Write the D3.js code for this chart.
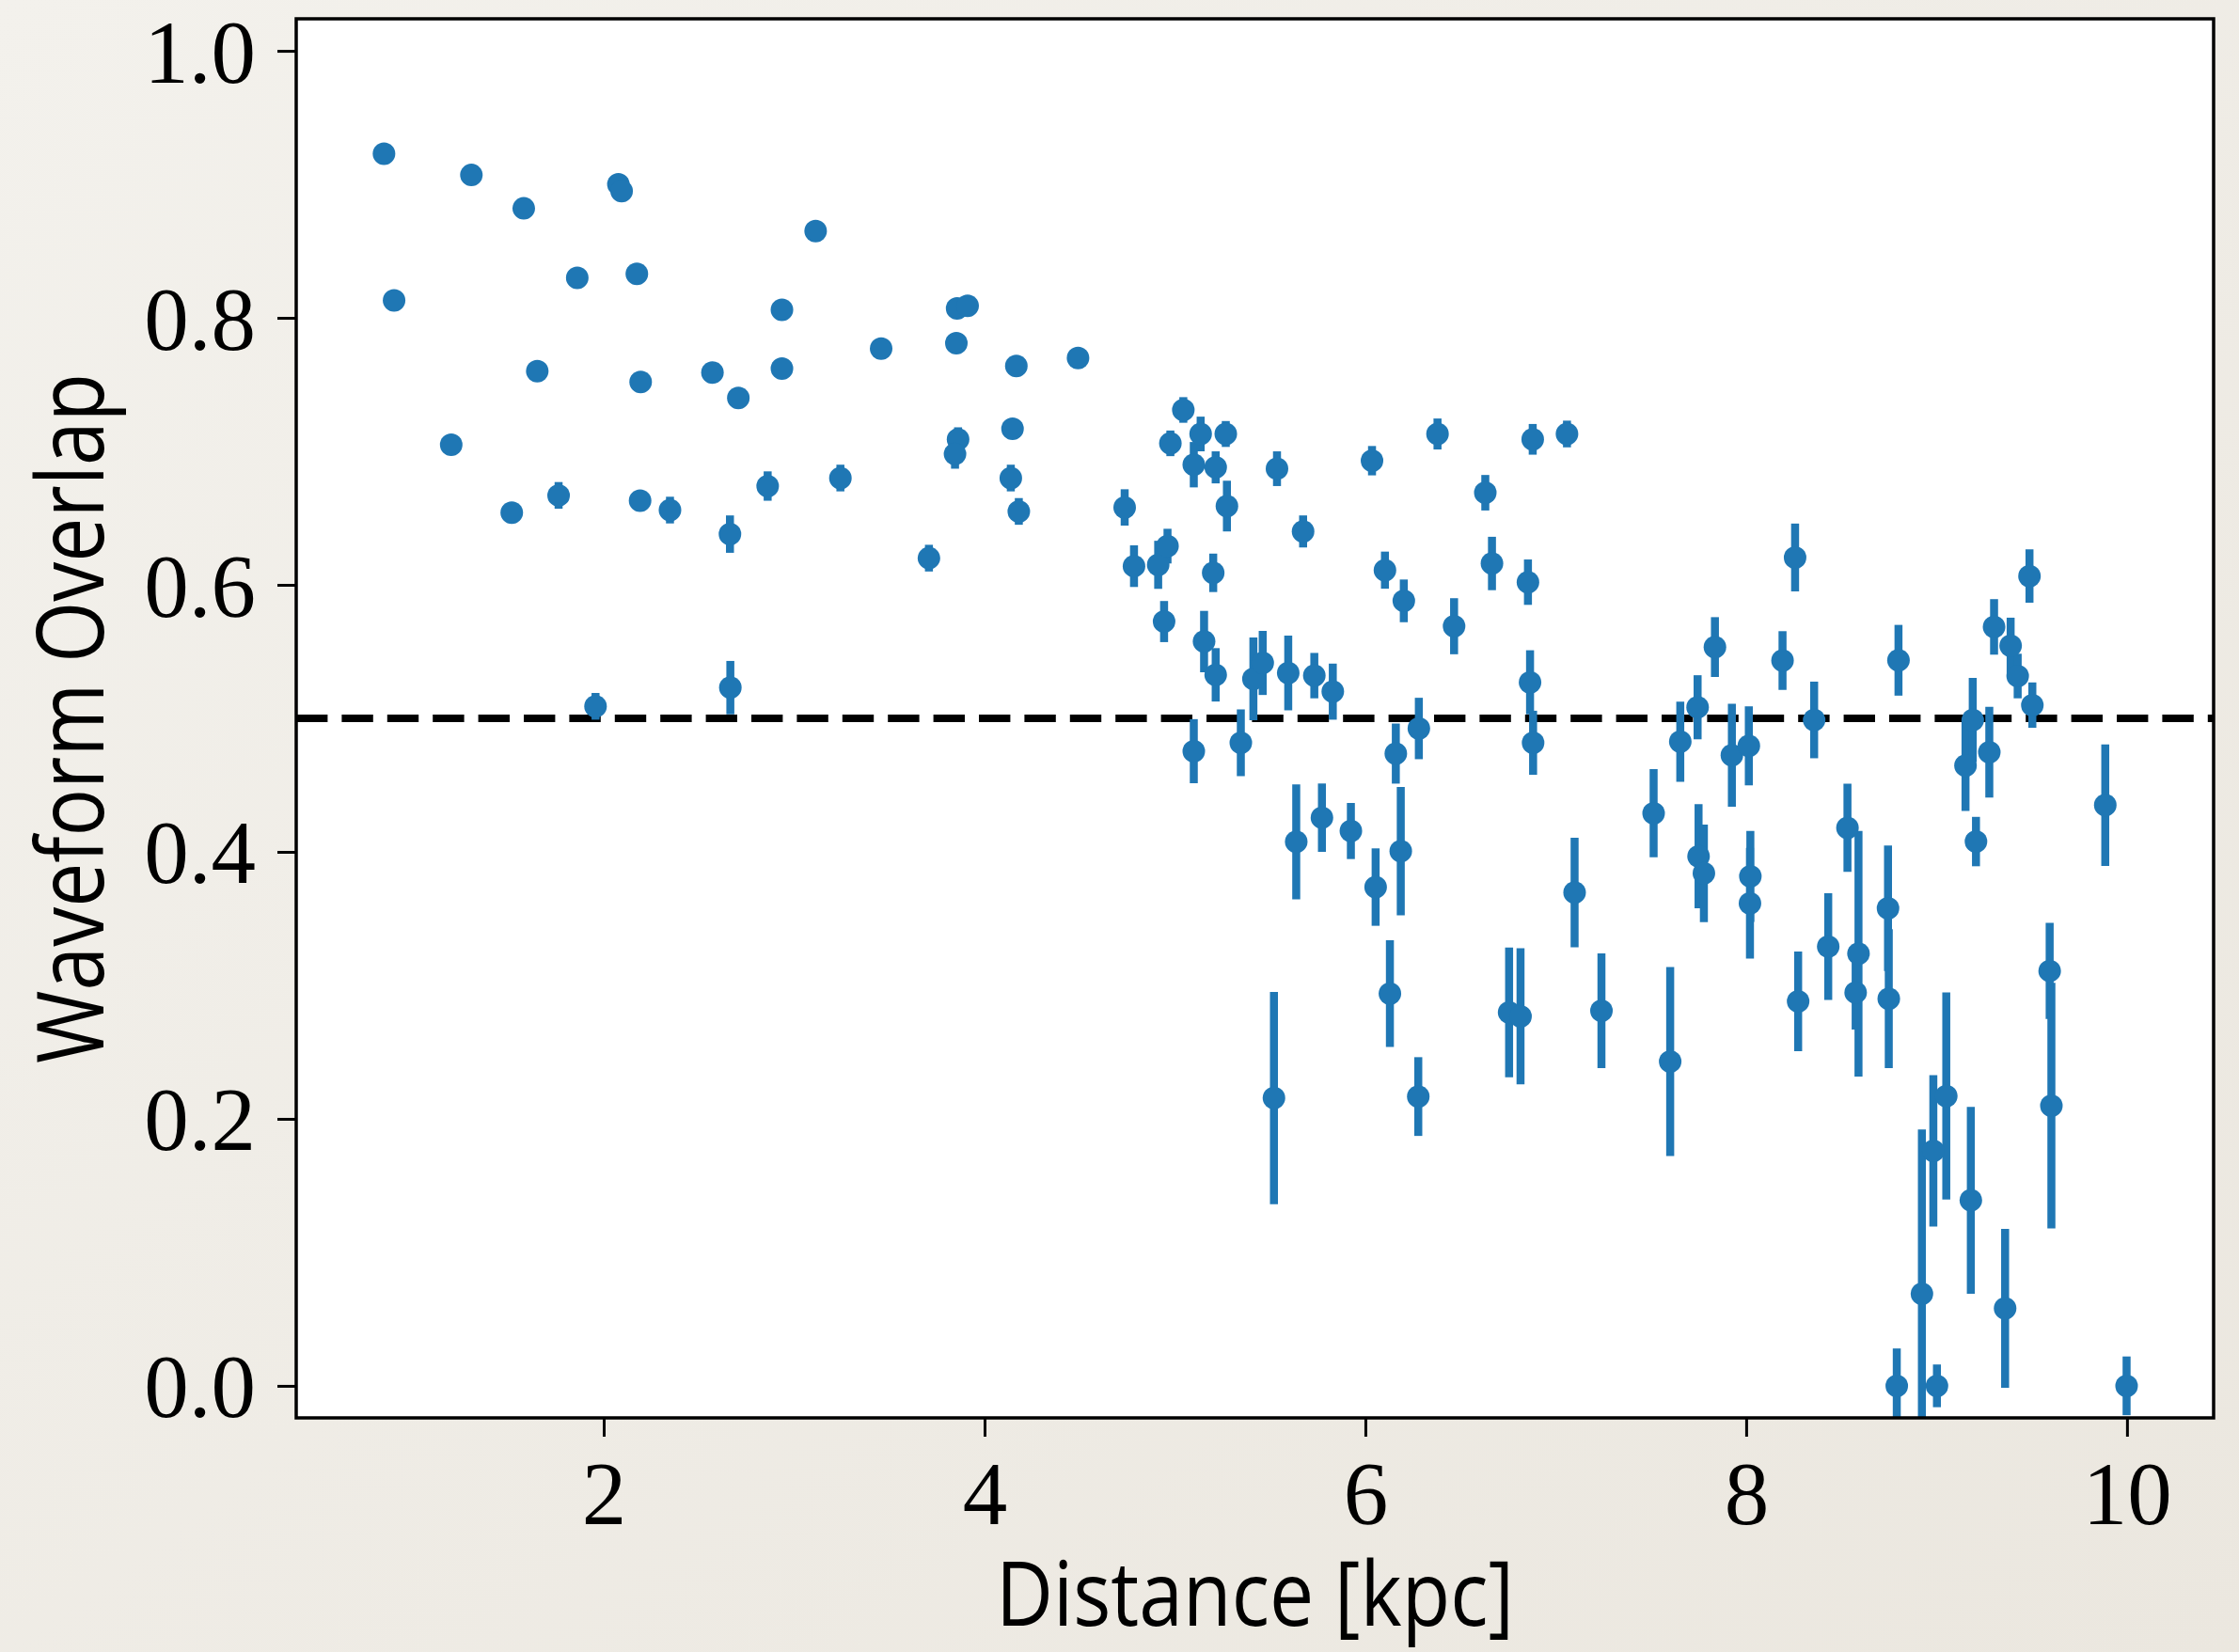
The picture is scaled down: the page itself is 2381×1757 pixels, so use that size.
<!DOCTYPE html>
<meta charset="utf-8">
<script src="https://d3js.org/d3.v7.min.js"></script>
<style>
  body { margin: 0; background: #efece6; }
</style>
<div id="chart"></div>
<script>
  // distance [kpc], waveform overlap and its error
  var distance = [
    0.846, 0.899, 1.199, 1.305, 1.517, 1.580, 1.651, 1.763, 1.861, 1.957,
    2.077, 2.094, 2.174, 2.194, 2.191, 2.348, 2.571, 2.663, 2.665, 2.707,
    2.861, 2.936, 2.936, 3.113, 3.243, 3.457, 3.708, 3.852, 3.856, 3.911,
    3.861, 3.845, 4.147, 4.138, 4.167, 4.180, 4.491, 4.736, 4.785, 4.912,
    4.961, 4.943, 4.976, 5.044, 5.099, 5.099, 5.135, 5.153, 5.201, 5.214,
    5.214, 5.267, 5.273, 5.346, 5.412, 5.461, 5.520, 5.536, 5.595, 5.637,
    5.673, 5.732, 5.772, 5.829, 5.924, 6.035, 6.054, 6.103, 6.129, 6.160,
    6.186, 6.202, 6.278, 6.281, 6.379, 6.466, 6.630, 6.665, 6.755, 6.815,
    6.854, 6.865, 6.879, 6.881, 7.059, 7.099, 7.240, 7.514, 7.601, 7.654,
    7.745, 7.750, 7.778, 7.836, 7.925, 8.014, 8.022, 8.020, 8.191, 8.257,
    8.273, 8.357, 8.431, 8.532, 8.575, 8.590, 8.745, 8.749, 8.791, 8.800,
    8.923, 8.983, 9.002, 9.051, 9.152, 9.180, 9.190, 9.207, 9.277, 9.302,
    9.360, 9.389, 9.426, 9.488, 9.503, 9.594, 9.603, 9.886, 9.998
  ];
  var overlap = [
    0.923, 0.813, 0.705, 0.907, 0.654, 0.882, 0.760, 0.667, 0.830, 0.509,
    0.900, 0.895, 0.833, 0.752, 0.663, 0.656, 0.759, 0.638, 0.523, 0.740,
    0.674, 0.806, 0.762, 0.865, 0.680, 0.777, 0.620, 0.781, 0.807, 0.809,
    0.709, 0.698, 0.717, 0.680, 0.764, 0.655, 0.770, 0.658, 0.614, 0.615,
    0.629, 0.5725, 0.706, 0.731, 0.690, 0.4754, 0.713, 0.5575, 0.609, 0.688,
    0.5326, 0.713, 0.659, 0.4817, 0.5296, 0.5415, 0.2156, 0.687, 0.534, 0.4075,
    0.640, 0.532, 0.4256, 0.520, 0.4156, 0.693, 0.3736, 0.611, 0.2938, 0.4736,
    0.4005, 0.588, 0.2167, 0.4924, 0.713, 0.569, 0.669, 0.616, 0.2798, 0.2768,
    0.602, 0.527, 0.709, 0.4817, 0.713, 0.3695, 0.281, 0.4289, 0.2429, 0.4825,
    0.5083, 0.3967, 0.3839, 0.5534, 0.4724, 0.4794, 0.3816, 0.3615, 0.5433, 0.6205,
    0.288, 0.4988, 0.329, 0.418, 0.2946, 0.3237, 0.3577, 0.290, 0.000, 0.5435,
    0.069, 0.176, 0.000, 0.2171, 0.4646, 0.139, 0.4988, 0.4077, 0.4746, 0.5685,
    0.058, 0.5544, 0.5317, 0.6066, 0.5099, 0.3108, 0.2099, 0.435, 0.000
  ];
  var overlapErr = [
    0.004, 0.004, 0.004, 0.004, 0.005, 0.004, 0.005, 0.010, 0.004, 0.010,
    0.004, 0.004, 0.004, 0.005, 0.006, 0.010, 0.005, 0.014, 0.020, 0.005,
    0.011, 0.005, 0.005, 0.004, 0.010, 0.005, 0.010, 0.005, 0.004, 0.004,
    0.009, 0.011, 0.006, 0.010, 0.005, 0.010, 0.005, 0.0136, 0.0156, 0.018,
    0.013, 0.0154, 0.0096, 0.0096, 0.017, 0.024, 0.013, 0.023, 0.0144, 0.012,
    0.020, 0.0097, 0.019, 0.025, 0.031, 0.024, 0.0795, 0.013, 0.028, 0.043,
    0.012, 0.017, 0.0256, 0.021, 0.021, 0.011, 0.029, 0.0139, 0.040, 0.0225,
    0.048, 0.016, 0.0295, 0.023, 0.0116, 0.021, 0.0133, 0.020, 0.0486, 0.051,
    0.017, 0.024, 0.0115, 0.024, 0.010, 0.041, 0.043, 0.033, 0.0708, 0.030,
    0.024, 0.039, 0.0366, 0.0224, 0.0386, 0.0296, 0.034, 0.0415, 0.022, 0.0254,
    0.0373, 0.0287, 0.040, 0.033, 0.0277, 0.092, 0.047, 0.052, 0.028, 0.0265,
    0.123, 0.0567, 0.016, 0.0776, 0.034, 0.070, 0.0315, 0.0185, 0.034, 0.0208,
    0.0595, 0.021, 0.0167, 0.020, 0.017, 0.036, 0.092, 0.0455, 0.022
  ];
  var xTicks = [2, 4, 6, 8, 10];
  var yTicks = [0.0, 0.2, 0.4, 0.6, 0.8, 1.0];
  var threshold = 0.5;

  var W = 2381, H = 1757;
  var margin = {top: 20, right: 27, bottom: 249, left: 315};
  var width = W - margin.left - margin.right,
      height = H - margin.top - margin.bottom;
  var blue = "#1f77b4";

  var svg = d3.select("#chart")
    .append("svg")
      .attr("width", W)
      .attr("height", H);

  // paper-ish background
  var defs = svg.append("defs");
  var grad = defs.append("linearGradient")
      .attr("id", "paper")
      .attr("x1", "0").attr("y1", "0").attr("x2", "1").attr("y2", "1");
  grad.append("stop").attr("offset", "0%").attr("stop-color", "#f3f1ec");
  grad.append("stop").attr("offset", "100%").attr("stop-color", "#ebe7df");
  svg.append("rect")
    .attr("width", W).attr("height", H)
    .attr("fill", "url(#paper)");

  defs.append("clipPath").attr("id", "plotclip")
    .append("rect").attr("width", width).attr("height", height);

  var g = svg.append("g")
      .attr("transform", "translate(" + margin.left + "," + margin.top + ")");

  var x = d3.scaleLinear().domain([0.385, 10.455]).range([0, width]);
  var y = d3.scaleLinear().domain([-0.024, 1.024]).range([height, 0]);

  g.append("rect")
    .attr("width", width).attr("height", height)
    .attr("fill", "white");

  var plot = g.append("g").attr("clip-path", "url(#plotclip)");

  // dashed threshold line
  plot.append("line")
    .attr("x1", 0).attr("x2", width)
    .attr("y1", y(threshold)).attr("y2", y(threshold))
    .attr("stroke", "black")
    .attr("stroke-width", 8)
    .attr("stroke-dasharray", "33.4,15");

  var pts = distance.map(function(d, i) {
    return {x: d, y: overlap[i], e: overlapErr[i]};
  });

  plot.append("g")
    .selectAll("line")
    .data(pts)
    .enter()
    .append("line")
      .attr("x1", d => x(d.x)).attr("x2", d => x(d.x))
      .attr("y1", d => y(d.y - d.e)).attr("y2", d => y(d.y + d.e))
      .attr("stroke", blue)
      .attr("stroke-width", 8.5);

  plot.append("g")
    .selectAll("circle")
    .data(pts)
    .enter()
    .append("circle")
      .attr("cx", d => x(d.x))
      .attr("cy", d => y(d.y))
      .attr("r", 12)
      .attr("fill", blue);

  // axes
  var xAxis = g.append("g")
      .attr("transform", "translate(0," + height + ")")
      .call(d3.axisBottom(x).tickValues(xTicks).tickSize(20).tickPadding(0).tickFormat(d3.format("d")));
  var yAxis = g.append("g")
      .call(d3.axisLeft(y).tickValues(yTicks).tickSize(20).tickPadding(0).tickFormat(d3.format(".1f")));

  [xAxis, yAxis].forEach(function(a) {
    a.select(".domain").remove();
    a.selectAll(".tick line").attr("stroke", "black").attr("stroke-width", 3);
    a.selectAll(".tick text")
      .attr("font-family", "'Liberation Serif', 'DejaVu Serif', serif")
      .attr("font-size", 95)
      .attr("fill", "black");
  });
  xAxis.selectAll(".tick text")
    .attr("dy", null)
    .attr("y", 113);
  yAxis.selectAll(".tick text")
    .attr("dy", null)
    .attr("x", -43)
    .attr("y", 33);

  // frame
  g.append("rect")
    .attr("width", width).attr("height", height)
    .attr("fill", "none")
    .attr("stroke", "black")
    .attr("stroke-width", 3.5);

  // axis labels
  svg.append("text")
    .attr("x", margin.left + width / 2)
    .attr("y", 1729)
    .attr("text-anchor", "middle")
    .attr("font-family", "'Open Sans', 'Noto Sans', sans-serif")
    .attr("font-size", 96)
    .attr("textLength", 551)
    .attr("lengthAdjust", "spacingAndGlyphs")
    .text("Distance [kpc]");

  svg.append("text")
    .attr("transform", "translate(110," + (margin.top + height / 2) + ") rotate(-90)")
    .attr("text-anchor", "middle")
    .attr("font-family", "'Open Sans', 'Noto Sans', sans-serif")
    .attr("font-size", 98)
    .attr("textLength", 734)
    .attr("lengthAdjust", "spacingAndGlyphs")
    .text("Waveform Overlap");
</script>
